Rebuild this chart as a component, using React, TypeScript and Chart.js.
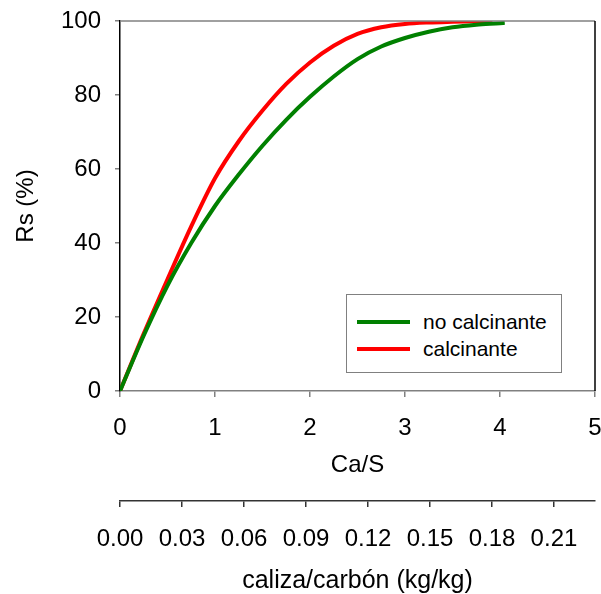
import React, { useEffect, useRef } from "react";
import { Chart, registerables } from "chart.js";

Chart.register(...registerables);

const caS_green = [0, 0.25, 0.5, 0.75, 1, 1.25, 1.5, 1.75, 2, 2.25, 2.5, 2.75, 3, 3.25, 3.5, 3.75, 4, 4.05];
const rs_green = [0, 15, 28.5, 40, 50, 58.5, 66.3, 73.3, 79.5, 85, 89.7, 93.1, 95.4, 97.1, 98.3, 99, 99.4, 99.5];
const caS_red = [0, 0.25, 0.5, 0.75, 1, 1.25, 1.5, 1.75, 2, 2.25, 2.5, 2.75, 3, 3.25, 3.5, 3.75, 3.92];
const rs_red = [0, 15.5, 30.2, 44.5, 57.5, 67.5, 75.8, 83, 88.8, 93.3, 96.5, 98.3, 99.2, 99.6, 99.8, 99.95, 100];
const seriesLabels = ["no calcinante", "calcinante"];
const seriesColors = ["#008000", "#ff0000"];
const yTicks = [0, 20, 40, 60, 80, 100];
const xTicks = [0, 1, 2, 3, 4, 5];
const kgTickStep = 0.03;
const kgPerCaS = 0.04597;

const FONT = "'Liberation Sans', Arial, sans-serif";

export default function App() {
  const ref = useRef<HTMLCanvasElement | null>(null);
  useEffect(() => {
    if (!ref.current) return;
    const borderPlugin = {
      id: "frame",
      afterDraw(chart: any) {
        const { ctx, chartArea } = chart;
        ctx.save();
        ctx.lineWidth = 1.5;
        ctx.strokeStyle = "#808080";
        ctx.beginPath();
        ctx.moveTo(chartArea.left, chartArea.top);
        ctx.lineTo(chartArea.right, chartArea.top);
        ctx.stroke();
        ctx.strokeStyle = "#000000";
        ctx.beginPath();
        ctx.moveTo(chartArea.right, chartArea.top);
        ctx.lineTo(chartArea.right, chartArea.bottom);
        ctx.stroke();
        ctx.restore();
      },
    };
    const zeroHPad = (s: any) => {
      s.paddingLeft = 0;
      s.paddingRight = 0;
    };
    const chart = new Chart(ref.current, {
      type: "line",
      data: {
        datasets: [
          {
            label: seriesLabels[0],
            data: caS_green.map((x, i) => ({ x, y: rs_green[i] })),
            borderColor: seriesColors[0],
            borderWidth: 4,
            pointRadius: 0,
            cubicInterpolationMode: "monotone",
            xAxisID: "x",
            yAxisID: "y",
          },
          {
            label: seriesLabels[1],
            data: caS_red.map((x, i) => ({ x, y: rs_red[i] })),
            borderColor: seriesColors[1],
            borderWidth: 4,
            pointRadius: 0,
            cubicInterpolationMode: "monotone",
            xAxisID: "x",
            yAxisID: "y",
          },
        ],
      },
      options: {
        responsive: false,
        animation: false,
        layout: { padding: { left: 0, right: 6, top: 21, bottom: 0 } },
        plugins: { legend: { display: false }, tooltip: { enabled: false } },
        scales: {
          x: {
            type: "linear",
            position: "bottom",
            weight: 0,
            min: xTicks[0],
            max: xTicks[xTicks.length - 1],
            afterBuildTicks: (s: any) => {
              s.ticks = xTicks.map((v) => ({ value: v }));
            },
            afterFit: (s: any) => {
              s.height = 110;
              zeroHPad(s);
            },
            grid: { drawOnChartArea: false, drawTicks: true, tickLength: 6, color: "#808080", lineWidth: 1.5 },
            border: { color: "#808080", width: 1.5 },
            ticks: { color: "#000", font: { family: FONT, size: 24 }, padding: 17, maxRotation: 0 },
            title: { display: true, text: "Ca/S", color: "#000", font: { family: FONT, size: 24 }, padding: { top: 0, bottom: 21.5 } },
          },
          x2: {
            type: "linear",
            position: "bottom",
            weight: 1,
            min: 0,
            max: kgPerCaS * xTicks[xTicks.length - 1],
            afterBuildTicks: (s: any) => {
              const t = [];
              for (let i = 0; i * kgTickStep <= s.max + 1e-9; i++) t.push({ value: i * kgTickStep });
              s.ticks = t;
            },
            afterFit: (s: any) => {
              s.height = 93;
              zeroHPad(s);
            },
            grid: { drawOnChartArea: false, drawTicks: true, tickLength: 6, color: "#333", lineWidth: 1.5 },
            border: { color: "#333", width: 1.5 },
            ticks: {
              color: "#000",
              font: { family: FONT, size: 24 },
              padding: 17.5,
              maxRotation: 0,
              autoSkip: false,
              callback: (v: any) => Number(v).toFixed(2),
            },
            title: {
              display: true,
              text: "caliza/carbón (kg/kg)",
              color: "#000",
              font: { family: FONT, size: 25, lineHeight: 1 },
              padding: { top: 0, bottom: 0.5 },
            },
          },
          y: {
            type: "linear",
            min: yTicks[0],
            max: yTicks[yTicks.length - 1],
            afterBuildTicks: (s: any) => {
              s.ticks = yTicks.map((v) => ({ value: v }));
            },
            afterFit: (s: any) => {
              s.width = 120;
              s.paddingTop = 0;
              s.paddingBottom = 0;
            },
            grid: { drawOnChartArea: false, drawTicks: true, tickLength: 5, color: "#808080", lineWidth: 1.5 },
            border: { color: "#000", width: 1.5 },
            ticks: { color: "#000", font: { family: FONT, size: 24 }, padding: 14 },
            title: { display: true, text: "Rs (%)", color: "#000", font: { family: FONT, size: 24 }, padding: { top: 11.5, bottom: 0 } },
          },
        },
      },
      plugins: [borderPlugin],
    } as any);
    return () => chart.destroy();
  }, []);

  return (
    <div style={{ position: "absolute", left: 0, top: 0, width: 601, height: 594, background: "#fff" }}>
      <canvas ref={ref} width={601} height={594} style={{ display: "block" }} />
      <div
        style={{
          position: "absolute",
          left: 346,
          top: 294,
          width: 216,
          height: 79,
          boxSizing: "border-box",
          border: "1.5px solid #808080",
          background: "#fff",
          fontFamily: FONT,
          fontSize: 21,
          color: "#000",
        }}
      >
        {seriesLabels.map((lab, i) => (
          <div
            key={lab}
            style={{ position: "absolute", left: 10, top: i === 0 ? 14 : 41, height: 26, display: "flex", alignItems: "center", whiteSpace: "nowrap" }}
          >
            <span style={{ display: "inline-block", width: 53, height: 4, background: seriesColors[i], marginRight: 13 }} />
            <span>{lab}</span>
          </div>
        ))}
      </div>
    </div>
  );
}
